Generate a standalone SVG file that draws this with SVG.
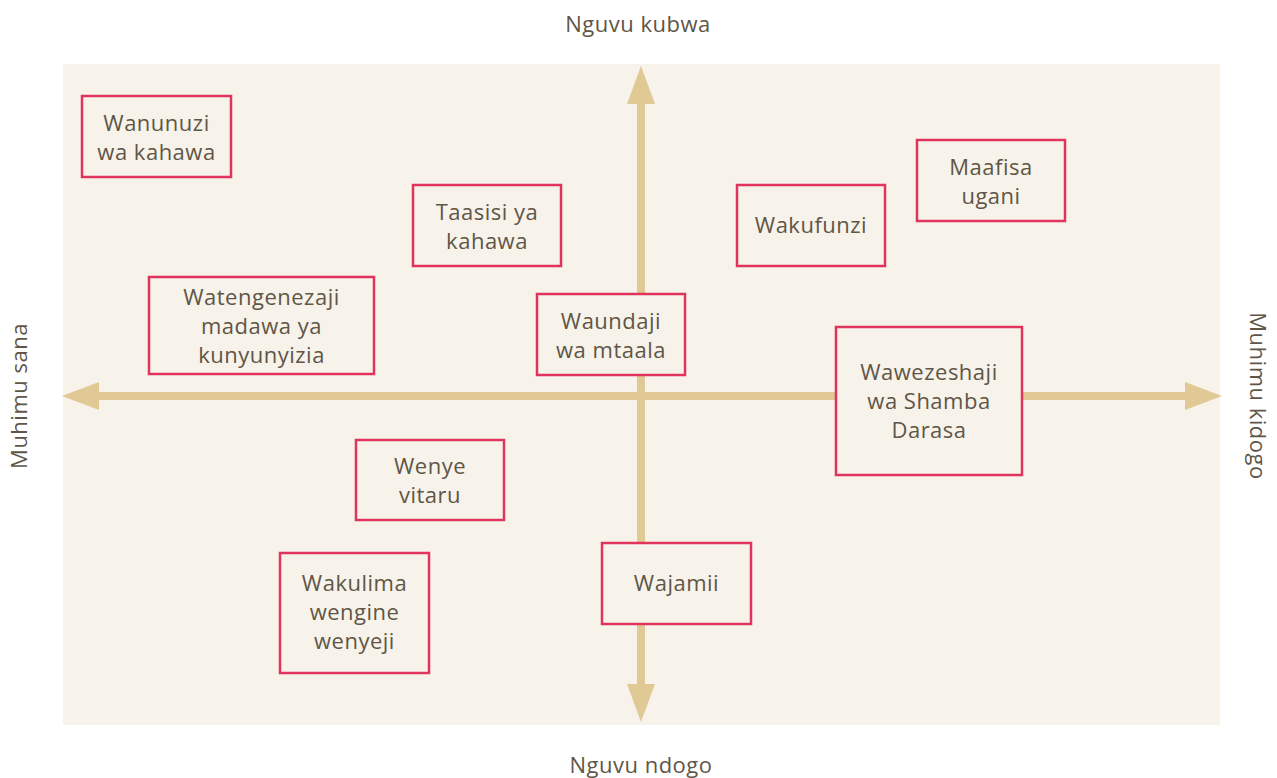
<svg xmlns="http://www.w3.org/2000/svg" width="1277" height="778" viewBox="0 0 1277 778">
<style>
.t{font-family:"Open Sans","Liberation Sans",sans-serif;font-size:22px;letter-spacing:0.5px;fill:#5f5647;text-anchor:middle}
.b{fill:#f7f2ea;stroke:#e0345c;stroke-width:2.5}
.ax{stroke:#e1c995;stroke-width:8;fill:none}
.ah{fill:#e1c995}
</style>
<rect width="1277" height="778" fill="#ffffff"/>
<rect x="63" y="64" width="1157" height="661" fill="#f7f2ea"/>
<g id="connectors">
<line class="ax" x1="641" y1="100" x2="641" y2="688"/>
<line class="ax" x1="96" y1="396" x2="1188" y2="396"/>
<polygon class="ah" points="641,66 627,104 655,104"/>
<polygon class="ah" points="641,722 627,684 655,684"/>
<polygon class="ah" points="62,396 99,382 99,410"/>
<polygon class="ah" points="1222,396 1185,382 1185,410"/>
</g>
<g id="labels">
<text class="t" x="638" y="32">Nguvu kubwa</text>
<text class="t" x="641" y="773">Nguvu ndogo</text>
<text class="t" transform="translate(27,396) rotate(-90)">Muhimu sana</text>
<text class="t" transform="translate(1250,396) rotate(90)">Muhimu kidogo</text>
</g>
<g id="n1"><rect class="b" x="82" y="96" width="149" height="81"/><text class="t" x="156.5" y="131">Wanunuzi</text><text class="t" x="156.5" y="160">wa kahawa</text></g>
<g id="n2"><rect class="b" x="413" y="185" width="148" height="81"/><text class="t" x="487" y="220">Taasisi ya</text><text class="t" x="487" y="249">kahawa</text></g>
<g id="n3"><rect class="b" x="149" y="277" width="225" height="97"/><text class="t" x="261.5" y="305">Watengenezaji</text><text class="t" x="261.5" y="334">madawa ya</text><text class="t" x="261.5" y="363">kunyunyizia</text></g>
<g id="n4"><rect class="b" x="537" y="294" width="148" height="81"/><text class="t" x="611" y="329">Waundaji</text><text class="t" x="611" y="358">wa mtaala</text></g>
<g id="n5"><rect class="b" x="737" y="185" width="148" height="81"/><text class="t" x="811" y="233">Wakufunzi</text></g>
<g id="n6"><rect class="b" x="917" y="140" width="148" height="81"/><text class="t" x="991" y="175">Maafisa</text><text class="t" x="991" y="204">ugani</text></g>
<g id="n7"><rect class="b" x="836" y="327" width="186" height="148"/><text class="t" x="929" y="380">Wawezeshaji</text><text class="t" x="929" y="409">wa Shamba</text><text class="t" x="929" y="438">Darasa</text></g>
<g id="n8"><rect class="b" x="356" y="440" width="148" height="80"/><text class="t" x="430" y="474">Wenye</text><text class="t" x="430" y="503">vitaru</text></g>
<g id="n9"><rect class="b" x="280" y="553" width="149" height="120"/><text class="t" x="354.5" y="591">Wakulima</text><text class="t" x="354.5" y="620">wengine</text><text class="t" x="354.5" y="649">wenyeji</text></g>
<g id="n10"><rect class="b" x="602" y="543" width="149" height="81"/><text class="t" x="676.5" y="591">Wajamii</text></g>
</svg>
